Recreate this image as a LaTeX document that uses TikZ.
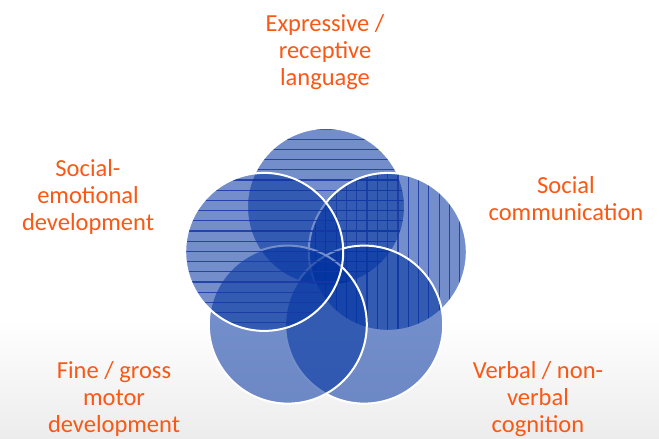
\documentclass[tikz,border=0pt]{standalone}
\usepackage{fontspec}
\setmainfont{Carlito}
\definecolor{lblc}{RGB}{250,88,20}
\definecolor{cfill}{RGB}{0,50,160}
\definecolor{pline}{RGB}{25,55,165}
\definecolor{bgbot}{RGB}{236,236,236}
\begin{document}
\begin{tikzpicture}[x=1pt,y=-1pt,
  lbl/.style={text=lblc, font=\fontsize{24.5}{27}\selectfont, align=center, inner sep=0pt, anchor=base},
  cfillst/.style={fill=cfill, fill opacity=0.55},
  cedge/.style={draw=white, line width=2pt},
  hatch/.style={draw=pline, line width=1.2pt, opacity=0.85}]
\useasboundingbox (0,0) rectangle (659,439);
\fill[white] (0,0) rectangle (659,439);
\shade[top color=white, bottom color=bgbot] (0,320) rectangle (659,439);

\coordinate (cT) at (326,207);
\coordinate (cR) at (387.8,251.9);
\coordinate (cBR) at (364.2,324.6);
\coordinate (cBL) at (287.8,324.6);
\coordinate (cL) at (264.2,251.9);
\def\rad{79}

% top circle (horizontal lines)
\fill[cfillst] (cT) circle[radius=\rad];
\begin{scope}
  \clip (cT) circle[radius=\rad];
  \foreach \k in {-6,...,11} \draw[hatch] (230,{180+10.2*\k}) -- (420,{180+10.2*\k});
\end{scope}
\draw[cedge] (cT) circle[radius=\rad];

% right circle (vertical lines)
\fill[cfillst] (cR) circle[radius=\rad];
\begin{scope}
  \clip (cR) circle[radius=\rad];
  \foreach \k in {-6,...,11} \draw[hatch] ({356.7+10.3*\k},160) -- ({356.7+10.3*\k},340);
\end{scope}
\draw[cedge] (cR) circle[radius=\rad];

% bottom-right circle
\fill[cfillst] (cBR) circle[radius=\rad];
\draw[cedge] (cBR) circle[radius=\rad];

% bottom-left circle
\fill[cfillst] (cBL) circle[radius=\rad];
\draw[cedge] (cBL) circle[radius=\rad];

% left circle (horizontal lines)
\fill[cfillst] (cL) circle[radius=\rad];
\begin{scope}
  \clip (cL) circle[radius=\rad];
  \foreach \k in {-6,...,16} \draw[hatch] (170,{180+10.2*\k}) -- (360,{180+10.2*\k});
\end{scope}
\draw[cedge] (cL) circle[radius=\rad];

\node[lbl] (tT) at (325,85) {Expressive /\\receptive\\language};
\node[lbl] (tL) at (88,230) {Social-\\emotional\\development};
\node[lbl] (tR) at (566,220) {Social\\communication};
\node[lbl] (tBL) at (114,432) {Fine / gross\\motor\\development};
\node[lbl] (tBR) at (538,432) {Verbal / non-\\verbal\\cognition};
\end{tikzpicture}
\end{document}
